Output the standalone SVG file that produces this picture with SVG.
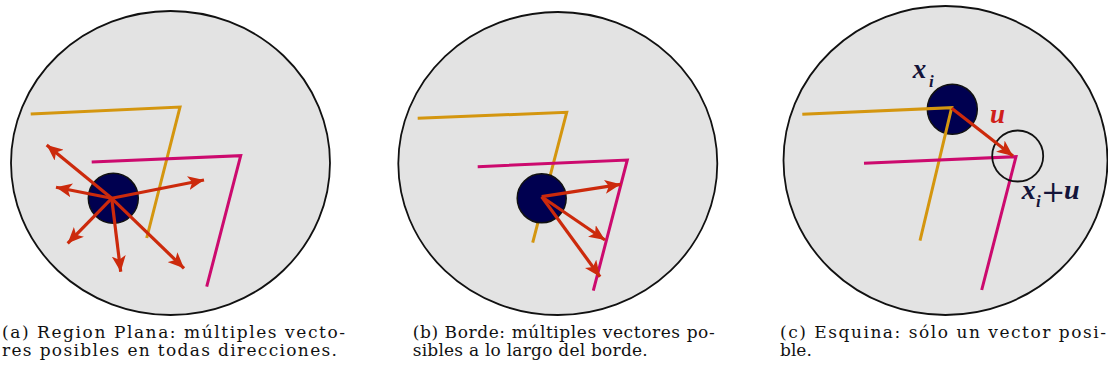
<svg xmlns="http://www.w3.org/2000/svg" width="1108" height="380" viewBox="0 0 1108 380">
<defs>
<style>
.disk{fill:#e3e3e3;stroke:#111;stroke-width:1.8}
.or{fill:none;stroke:#d4960f;stroke-width:3;stroke-linejoin:miter}
.mg{fill:none;stroke:#cc0a6e;stroke-width:3;stroke-linejoin:miter}
.pt{fill:#000050;stroke:#111;stroke-width:1.5}
.open{fill:none;stroke:#111;stroke-width:1.8}
.vec{stroke:#cc2a0c;stroke-width:3.2;fill:none;marker-end:url(#ah)}
.cap{font-family:"DejaVu Serif","Liberation Serif",serif;font-size:17px;fill:#111}
.lab{font-family:"Liberation Serif","DejaVu Serif",serif;font-style:italic;font-weight:bold;fill:#14143a}
</style>
<marker id="ah" markerUnits="userSpaceOnUse" markerWidth="18" markerHeight="14" refX="16" refY="7" orient="auto" viewBox="0 0 18 14">
<path d="M0,0 L16,7 L0,14 L4,7 z" fill="#cc2a0c"/>
</marker>
</defs>

<g id="panel-a">
<ellipse class="disk" cx="170.5" cy="163" rx="159.5" ry="152"/>
<polyline class="or" points="30.7,114 180,107 146.7,238"/>
<polyline class="mg" points="91.7,162 240.7,155.7 206.7,286.7"/>
<circle class="pt" cx="113.3" cy="198.3" r="25"/>
</g>
<g id="panel-b">
<ellipse class="disk" cx="557.8" cy="163.5" rx="159.5" ry="151.5"/>
<polyline class="or" points="417.7,118.3 566.7,112.3 532.7,242.7"/>
<polyline class="mg" points="477.7,166.7 627.3,160 593.3,290.7"/>
<circle class="pt" cx="541.7" cy="198.3" r="24.5"/>
</g>
<g id="panel-c">
<ellipse class="disk" cx="945.5" cy="160.5" rx="162" ry="154.5"/>
<circle class="pt" cx="952.3" cy="109.3" r="25"/>
<polyline class="or" points="802.3,114.3 951.7,107.7 920,240.7"/>
<polyline class="mg" points="864,163.3 1016,156.7 981.7,290"/>
<circle class="open" cx="1017.7" cy="156" r="25.5"/>
<text class="lab" x="912.7" y="78" font-size="27">x</text>
<text class="lab" x="929" y="87" font-size="17">i</text>
<text class="lab" x="990" y="122.7" font-size="27" style="fill:#d0201a">u</text>
<text class="lab" x="1021.7" y="198.5" font-size="28">x</text>
<text class="lab" x="1036" y="207" font-size="17">i</text>
<text x="1041" y="202" font-family="DejaVu Serif, Liberation Serif, serif" font-size="29" fill="#14143a">+</text>
<text class="lab" x="1064" y="198.5" font-size="28">u</text>
</g>

<g id="connectors">
<line class="vec" x1="111.7" y1="198.3" x2="46.7" y2="145"/>
<line class="vec" x1="111.7" y1="198.3" x2="56" y2="187.3"/>
<line class="vec" x1="111.7" y1="198.3" x2="204" y2="180"/>
<line class="vec" x1="111.7" y1="198.3" x2="67.7" y2="243.3"/>
<line class="vec" x1="111.7" y1="198.3" x2="120.7" y2="271.7"/>
<line class="vec" x1="111.7" y1="198.3" x2="184" y2="268.3"/>
<line class="vec" x1="541.7" y1="196.7" x2="620.7" y2="184.3"/>
<line class="vec" x1="541.7" y1="196.7" x2="605" y2="240"/>
<line class="vec" x1="541.7" y1="196.7" x2="600" y2="276.7"/>
<line class="vec" x1="951.7" y1="108.3" x2="1013" y2="156"/>
</g>

<g id="captions">
<text class="cap" x="2" y="338" textLength="343" lengthAdjust="spacing">(a) Region Plana: múltiples vecto-</text>
<text class="cap" x="2" y="356" textLength="335" lengthAdjust="spacing">res posibles en todas direcciones.</text>
<text class="cap" x="412.7" y="338" textLength="302" lengthAdjust="spacing">(b) Borde: múltiples vectores po-</text>
<text class="cap" x="412.7" y="356" textLength="235" lengthAdjust="spacing">sibles a lo largo del borde.</text>
<text class="cap" x="780" y="338" textLength="326" lengthAdjust="spacing">(c) Esquina: sólo un vector posi-</text>
<text class="cap" x="780" y="356">ble.</text>
</g>
</svg>
